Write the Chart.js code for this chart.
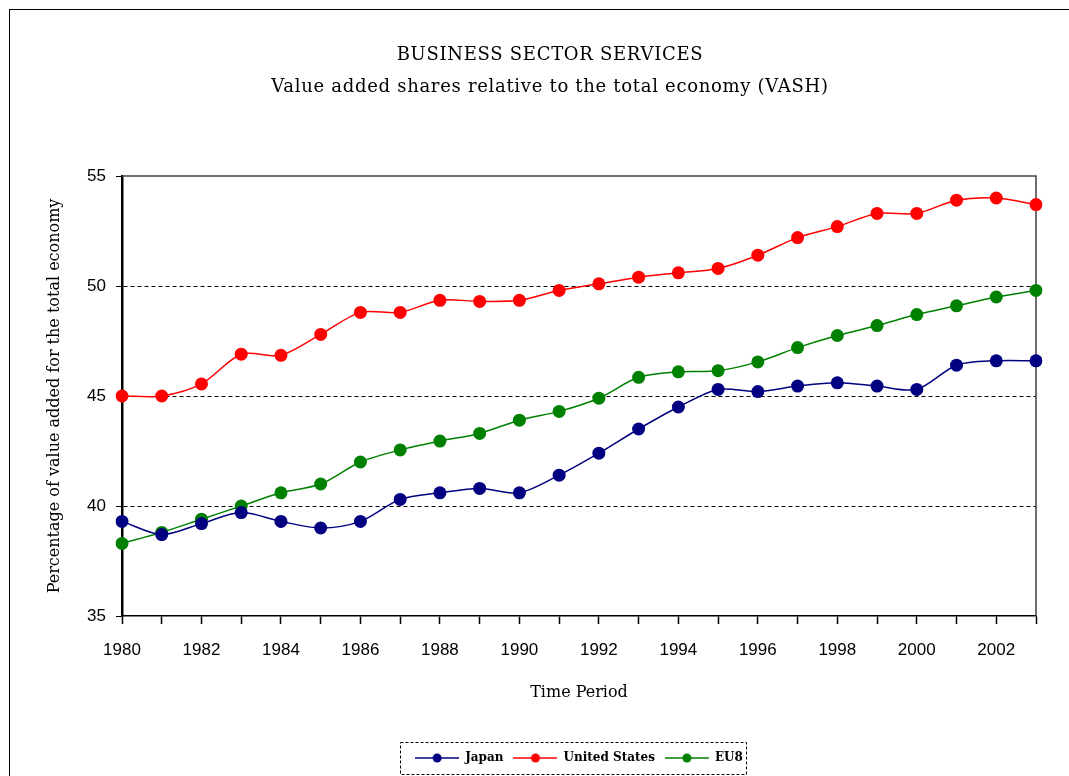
<!DOCTYPE html>
<html>
<head>
<meta charset="utf-8">
<script src="https://cdn.jsdelivr.net/npm/chart.js@4/dist/chart.umd.min.js"></script>
<style>
  html, body { margin: 0; padding: 0; background: #fff; }
  #wrap { width: 1069px; height: 776px; }
</style>
</head>
<body>
<div id="wrap"><canvas id="chart" width="1069" height="776"></canvas></div>
<script>
// data
const years = ['1980', '1981', '1982', '1983', '1984', '1985', '1986', '1987', '1988', '1989', '1990', '1991',
  '1992', '1993', '1994', '1995', '1996', '1997', '1998', '1999', '2000', '2001', '2002', '2003'];
const japan = [39.3, 38.7, 39.2, 39.7, 39.3, 39.0, 39.3, 40.3, 40.6, 40.8, 40.6, 41.4,
  42.4, 43.5, 44.5, 45.3, 45.2, 45.45, 45.6, 45.45, 45.3, 46.4, 46.6, 46.6];
const unitedStates = [45.0, 45.0, 45.55, 46.9, 46.85, 47.8, 48.8, 48.8, 49.35, 49.3, 49.35, 49.8,
  50.1, 50.4, 50.6, 50.8, 51.4, 52.2, 52.7, 53.3, 53.3, 53.9, 54.0, 53.7];
const eu8 = [38.3, 38.8, 39.4, 40.0, 40.6, 41.0, 42.0, 42.55, 42.95, 43.3, 43.9, 44.3,
  44.9, 45.85, 46.1, 46.15, 46.55, 47.2, 47.75, 48.2, 48.7, 49.1, 49.5, 49.8];
const yTicks = [35, 40, 45, 50, 55];

const titleLines = ['BUSINESS SECTOR SERVICES', 'Value added shares relative to the total economy (VASH)'];
const serif = "'DejaVu Serif', 'Liberation Serif', serif";
const sans = "'Liberation Sans', Arial, sans-serif";

// little line+dot sample for the legend
function legendIcon(color) {
  const c = document.createElement('canvas');
  c.width = 44; c.height = 12;
  const g = c.getContext('2d');
  g.strokeStyle = color; g.lineWidth = 1.5;
  g.beginPath(); g.moveTo(0, 6); g.lineTo(44, 6); g.stroke();
  g.fillStyle = color;
  g.beginPath(); g.arc(22, 6, 4.5, 0, Math.PI * 2); g.fill();
  return c;
}

function series(label, data, color) {
  return {
    label: label,
    data: data,
    borderColor: color,
    backgroundColor: color,
    borderWidth: 1.5,
    pointRadius: 6.5,
    pointHoverRadius: 6.5,
    pointBorderWidth: 0,
    pointStyle: 'circle',
    tension: 0.3
  };
}

const framePlugin = {
  id: 'frame',
  beforeDraw(chart) {
    const ctx = chart.ctx;
    ctx.save();
    ctx.fillStyle = '#fff';
    ctx.fillRect(0, 0, chart.width, chart.height);
    ctx.strokeStyle = '#000';
    ctx.lineWidth = 1;
    ctx.strokeRect(9.5, 9.5, 1200, 1000);
    ctx.fillStyle = '#000';
    ctx.textAlign = 'center';
    ctx.textBaseline = 'middle';
    ctx.font = '18px ' + serif;
    ctx.letterSpacing = '0.7px';
    ctx.fillText(titleLines[0], 550, 55);
    ctx.fillText(titleLines[1], 550, 87);
    ctx.restore();
  },
  beforeDatasetsDraw(chart) {
    const a = chart.chartArea, ctx = chart.ctx;
    ctx.save();
    ctx.strokeStyle = '#404040';
    ctx.lineWidth = 1.5;
    ctx.beginPath();
    ctx.moveTo(a.left, a.top);
    ctx.lineTo(a.right, a.top);
    ctx.lineTo(a.right, a.bottom);
    ctx.stroke();
    ctx.restore();
  },
  afterDraw(chart) {
    const boxes = chart.legend.legendHitBoxes;
    if (!boxes || !boxes.length) return;
    let x0 = Infinity, x1 = -Infinity, cy = 0;
    boxes.forEach(b => { x0 = Math.min(x0, b.left); x1 = Math.max(x1, b.left + b.width); cy = b.top + b.height / 2; });
    const ctx = chart.ctx;
    ctx.save();
    ctx.strokeStyle = '#000';
    ctx.lineWidth = 1;
    ctx.setLineDash([3, 2]);
    ctx.strokeRect(Math.round(x0 - 15) + 0.5, Math.round(cy - 16) + 0.5, Math.round(x1 - x0 + 18), 32);
    ctx.restore();
  }
};

new Chart(document.getElementById('chart'), {
  type: 'line',
  data: {
    labels: years,
    datasets: [
      series('Japan', japan, '#000080'),
      series('United States', unitedStates, '#ff0000'),
      series('EU8', eu8, '#008000')
    ]
  },
  options: {
    responsive: false,
    animation: false,
    devicePixelRatio: 1,
    layout: { padding: { left: 40, top: 176, right: 33, bottom: 2 } },
    plugins: {
      title: { display: false },
      tooltip: { enabled: false },
      legend: {
        position: 'bottom',
        fullSize: false,
        labels: {
          usePointStyle: true,
          boxWidth: 44,
          boxHeight: 12,
          pointStyleWidth: 44,
          padding: 10,
          color: '#000',
          font: { family: serif, size: 12, weight: 'bold' },
          generateLabels(chart) {
            return chart.data.datasets.map((ds, i) => ({
              text: ds.label,
              pointStyle: legendIcon(ds.borderColor),
              fillStyle: ds.borderColor,
              strokeStyle: ds.borderColor,
              lineWidth: 0,
              fontColor: '#000',
              hidden: false,
              datasetIndex: i
            }));
          }
        }
      }
    },
    scales: {
      x: {
        offset: false,
        afterFit(scale) { scale.height = 126; },
        grid: { drawOnChartArea: false, tickLength: 8, tickColor: '#000', tickWidth: 1.5 },
        border: { color: '#000', width: 1.5 },
        ticks: {
          autoSkip: false,
          maxRotation: 0,
          padding: 16,
          color: '#000',
          font: { family: sans, size: 17 },
          callback(v, i) { return i % 2 === 0 ? years[i] : ''; }
        },
        title: {
          display: true,
          text: 'Time Period',
          color: '#000',
          font: { family: serif, size: 16 },
          padding: { top: 0, bottom: 40 }
        }
      },
      y: {
        min: 35,
        max: 55,
        afterFit(scale) { scale.width = 82; },
        afterBuildTicks(scale) { scale.ticks = yTicks.map(v => ({ value: v })); },
        grid: {
          color: ctx => (ctx.tick && (ctx.tick.value === 35 || ctx.tick.value === 55)) ? 'rgba(0,0,0,0)' : '#000',
          tickColor: '#000',
          tickLength: 6,
          lineWidth: 1
        },
        border: { color: '#000', width: 2.5, dash: [4, 3] },
        ticks: {
          padding: 10,
          color: '#000',
          font: { family: sans, size: 17 }
        },
        title: {
          display: true,
          text: 'Percentage of value added for the total economy',
          color: '#000',
          font: { family: serif, size: 16 },
          padding: { top: 5, bottom: 0 }
        }
      }
    }
  },
  plugins: [framePlugin]
});
</script>
</body>
</html>
